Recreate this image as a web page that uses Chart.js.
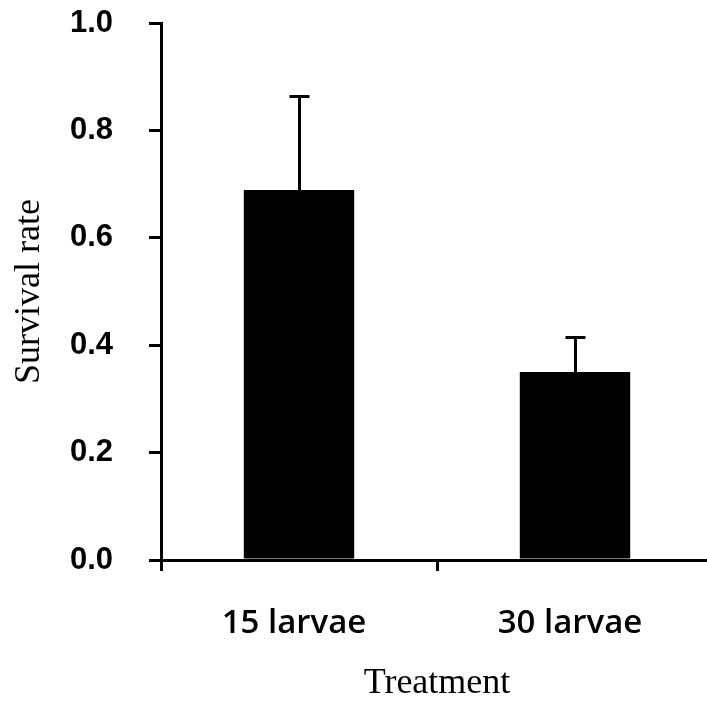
<!DOCTYPE html>
<html>
<head>
<meta charset="utf-8">
<script src="https://cdn.jsdelivr.net/npm/chart.js@4"></script>
<style>
  html, body { margin: 0; padding: 0; background: #fff; overflow: hidden; }
  #survivalChart { display: block; }
</style>
</head>
<body>
<canvas id="survivalChart" width="720" height="702"></canvas>
<script>
// Données
const categories = ['15 larvae', '30 larvae'];
const survivalMeans = [0.689, 0.350];
const survivalErrors = [0.175, 0.065];  // barre d'erreur vers le haut seulement
const yTicks = [0, 0.2, 0.4, 0.6, 0.8, 1.0];

// Petit plugin pour les barres d'erreur
const errorBars = {
    id: 'errorBars',
    afterDatasetsDraw(chart) {
        const ctx = chart.ctx;
        const meta = chart.getDatasetMeta(0);
        const yScale = chart.scales.y;
        ctx.save();
        ctx.strokeStyle = '#000';
        ctx.lineWidth = 3;
        meta.data.forEach((bar, i) => {
            const x = Math.round(bar.x) + 0.5;
            const yTop = Math.round(yScale.getPixelForValue(survivalMeans[i] + survivalErrors[i])) + 0.5;
            const yBase = yScale.getPixelForValue(survivalMeans[i]);
            ctx.beginPath();
            ctx.moveTo(x, yBase);
            ctx.lineTo(x, yTop);
            ctx.moveTo(x - 10, yTop);
            ctx.lineTo(x + 10, yTop);
            ctx.stroke();
        });
        ctx.restore();
    }
};

const ctx = document.getElementById('survivalChart').getContext('2d');

new Chart(ctx, {
    type: 'bar',
    data: {
        labels: categories,
        datasets: [{
            data: survivalMeans,
            backgroundColor: '#000',
            borderWidth: 0,
            barPercentage: 1,
            categoryPercentage: 0.4
        }]
    },
    options: {
        responsive: false,
        animation: false,
        layout: {
            padding: { left: 0, top: 23, right: 7, bottom: 0 }
        },
        plugins: {
            legend: { display: false },
            tooltip: { enabled: false }
        },
        scales: {
            x: {
                grid: {
                    display: true,
                    offset: true,
                    drawOnChartArea: false,
                    drawTicks: true,
                    tickLength: 11,
                    color: '#000',
                    lineWidth: 3
                },
                border: { display: true, color: '#000', width: 3 },
                ticks: {
                    color: '#000',
                    padding: 33,
                    labelOffset: -5,
                    maxRotation: 0,
                    font: { family: 'Open Sans', size: 33, weight: '600' }
                },
                title: {
                    display: true,
                    text: 'Treatment',
                    color: '#000',
                    padding: { top: 0, bottom: 0 },
                    font: { family: 'Liberation Serif', size: 36, weight: 'normal', lineHeight: 1.0 }
                },
                afterFit(scale) {
                    scale.height = 142;
                    scale.paddingLeft = 0;
                    scale.paddingRight = 0;
                }
            },
            y: {
                min: 0,
                max: 1,
                afterBuildTicks(scale) {
                    scale.ticks = yTicks.map(v => ({ value: v }));
                },
                grid: {
                    display: true,
                    drawOnChartArea: false,
                    drawTicks: true,
                    tickLength: 12,
                    color: '#000',
                    lineWidth: 3
                },
                border: { display: true, color: '#000', width: 3 },
                ticks: {
                    color: '#000',
                    padding: 36,
                    callback: v => Number(v).toFixed(1),
                    font: { family: 'Liberation Sans', size: 31, weight: 'bold' }
                },
                title: {
                    display: true,
                    text: 'Survival rate',
                    color: '#000',
                    padding: { top: 8, bottom: 0 },
                    font: { family: 'Liberation Serif', size: 36, weight: 'normal', lineHeight: 1.2 }
                },
                afterFit(scale) {
                    // la marge des étiquettes ne doit pas rétrécir la zone du graphique
                    scale.width = 161;
                    scale.paddingTop = 0;
                    scale.paddingBottom = 0;
                }
            }
        }
    },
    plugins: [errorBars]
});
</script>
</body>
</html>
